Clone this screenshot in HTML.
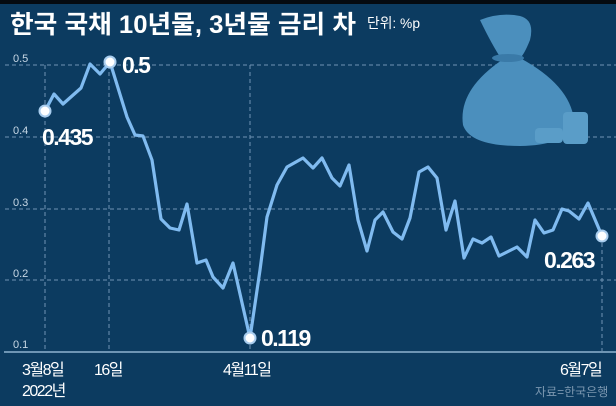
<!DOCTYPE html>
<html><head><meta charset="utf-8"><style>
body{margin:0;background:#0c3a5f;}
svg{display:block}
text{font-family:"Liberation Sans","Noto Sans CJK KR",sans-serif;}
</style></head><body>
<svg width="616" height="406" viewBox="0 0 616 406">
<rect width="616" height="406" fill="#0c3b60"/>
<rect width="616" height="4" fill="#050a10"/>
<text x="10" y="33" fill="#fff" font-size="25" font-weight="bold" textLength="346" lengthAdjust="spacingAndGlyphs" font-family="'Noto Sans CJK KR',sans-serif">한국 국채 10년물, 3년물 금리 차</text>
<text x="367" y="28" fill="#fff" font-size="14" textLength="53" lengthAdjust="spacingAndGlyphs" font-family="'Noto Sans CJK KR',sans-serif">단위: %p</text>
<g stroke="#6f93b3" stroke-dasharray="4,3" stroke-width="1">
<line x1="5" y1="65" x2="616" y2="65"/><line x1="5" y1="137" x2="616" y2="137"/>
<line x1="5" y1="209" x2="616" y2="209"/><line x1="5" y1="280" x2="616" y2="280"/>
<line x1="45" y1="65" x2="45" y2="351"/><line x1="109" y1="65" x2="109" y2="351"/>
<line x1="250" y1="65" x2="250" y2="351"/><line x1="602" y1="236" x2="602" y2="351"/>
</g>
<line x1="4" y1="352" x2="616" y2="352" stroke="#8fb3d0" stroke-width="1.5"/>
<g fill="#c8d8e6" font-size="11">
<text x="13" y="62">0.5</text><text x="13" y="134">0.4</text><text x="13" y="206">0.3</text><text x="13" y="277">0.2</text><text x="13" y="348">0.1</text></g>
<g fill="#fff" font-size="16" font-family="'Noto Sans CJK KR',sans-serif" letter-spacing="-1.5">
<text x="22" y="375">3월8일</text><text x="22" y="396">2022년</text><text x="94" y="375">16일</text>
<text x="223" y="375">4월11일</text><text x="560" y="375">6월7일</text></g>
<text x="535" y="396" fill="#7b97b0" font-size="12" font-family="'Noto Sans CJK KR',sans-serif">자료=한국은행</text>
<!-- money bag -->
<g fill="#4b8fbd">
<path d="M480 20 Q500 12 520 16 Q535 20 530 40 Q524 55 520 58 Q570 85 574 120 Q572 145 520 146 Q470 146 463 125 Q458 90 502 60 Q492 45 480 20Z"/>
<ellipse cx="508" cy="58" rx="16" ry="4" fill="#3a7aa8"/>
<rect x="535" y="128" width="28" height="15" rx="4" fill="#5a9dc8"/>
<rect x="563" y="112" width="25" height="32" rx="4" fill="#5a9dc8"/>
</g>
<polyline fill="none" stroke="#80bbf0" stroke-width="3.2" stroke-linejoin="round" points="45,111 54,94 63,104 81,88 90,64 100,74 110,62 127,117 135,135 143,136 152,160 161,219 170,228 179,230 187,204 197,263 206,260 213,277 223,288 233,263 250,338 260,270 267,217 277,185 287,167 303,158 313,168 322,158 332,178 340,186 349,165 358,220 367,251 375,220 383,212 393,232 402,239 410,218 419,172 428,167 437,178 446,230 455,201 464,258 473,239 482,243 491,237 499,256 517,247 527,257 535,220 544,233 553,230 562,209 569,211 579,219 588,203 602,236"/>
<g fill="#fff" stroke="#a9cdee" stroke-width="2">
<circle cx="45" cy="111" r="5.5"/><circle cx="110" cy="62" r="5.5"/><circle cx="250" cy="338" r="5.5"/><circle cx="602" cy="236" r="5.5"/></g>
<g fill="#fff" font-size="23" font-weight="bold" letter-spacing="-1.5">
<text x="42" y="145">0.435</text><text x="122" y="73">0.5</text><text x="261" y="346">0.119</text><text x="544" y="268">0.263</text></g>
</svg>
</body></html>
